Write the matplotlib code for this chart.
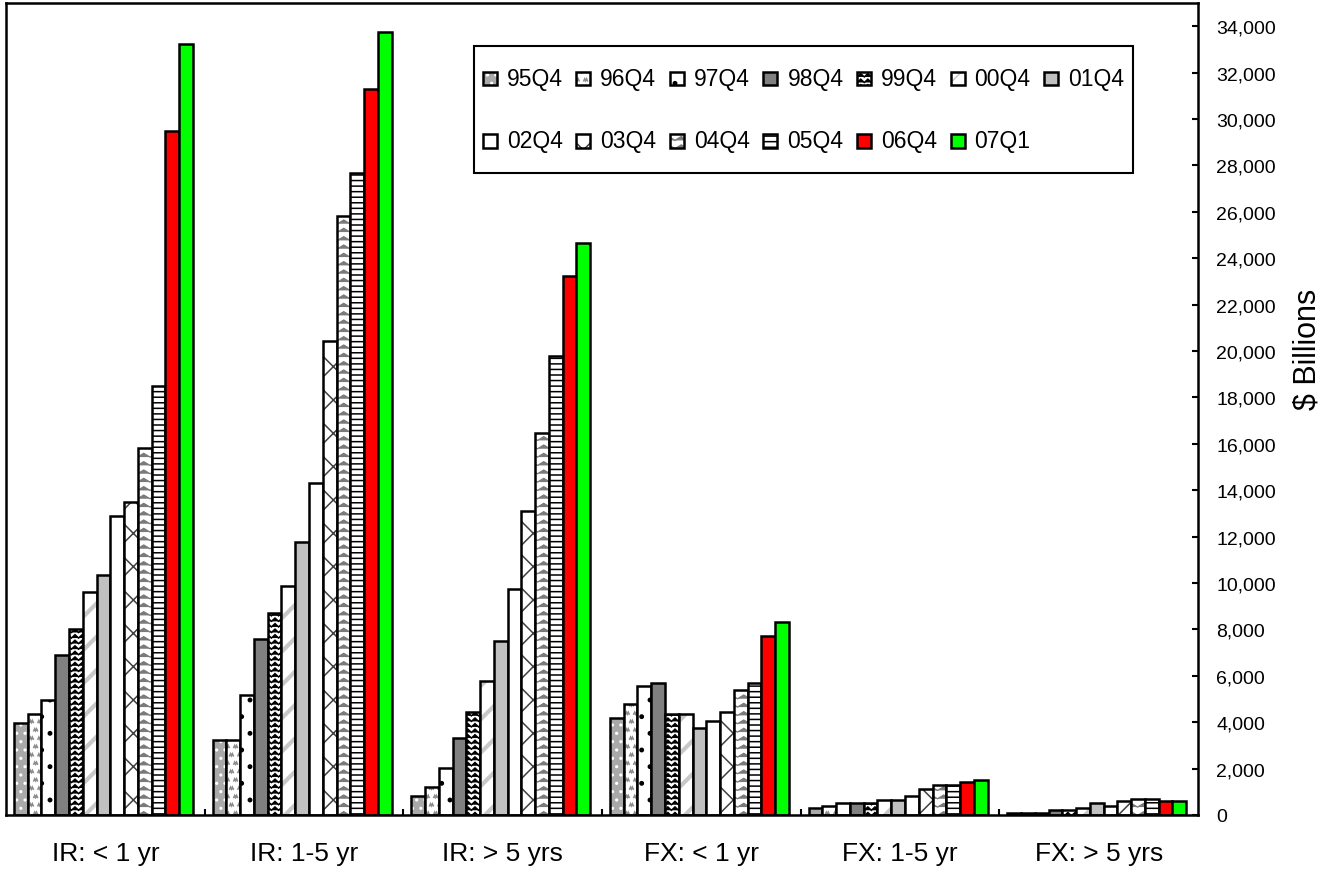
import warnings

import numpy as np
import matplotlib
matplotlib.use("Agg")
import matplotlib.pyplot as plt
from matplotlib import hatch as mhatch
from matplotlib.path import Path
from matplotlib.patches import Rectangle
from matplotlib.container import BarContainer
from matplotlib.colors import to_rgba
from matplotlib.legend_handler import HandlerPatch, update_from_first_child
from matplotlib.ticker import FixedLocator, FixedFormatter, FuncFormatter, NullFormatter

warnings.filterwarnings("ignore", message=".*hatch must consist.*")

plt.rcParams["font.family"] = ["Liberation Sans", "DejaVu Sans"]
plt.rcParams["hatch.linewidth"] = 1.1

# ---- data ($ billions) ----
CATEGORIES = ["IR: < 1 yr", "IR: 1-5 yr", "IR: > 5 yrs",
              "FX: < 1 yr", "FX: 1-5 yr", "FX: > 5 yrs"]
PERIODS = ["95Q4", "96Q4", "97Q4", "98Q4", "99Q4", "00Q4", "01Q4",
           "02Q4", "03Q4", "04Q4", "05Q4", "06Q4", "07Q1"]

ir_lt1 = [3950, 4350, 4960, 6900, 8000, 9630, 10340, 12900, 13500, 15840, 18490, 29480, 33230]
ir_1to5 = [3240, 3240, 5180, 7600, 8720, 9850, 11780, 14320, 20440, 25820, 27670, 31300, 33740]
ir_gt5 = [800, 1220, 2020, 3340, 4460, 5780, 7520, 9750, 13100, 16450, 19790, 23240, 24660]
fx_lt1 = [4160, 4780, 5580, 5670, 4360, 4360, 3740, 4050, 4460, 5380, 5680, 7720, 8330]
fx_1to5 = [290, 400, 500, 500, 500, 630, 630, 820, 1120, 1300, 1300, 1430, 1520]
fx_gt5 = [90, 90, 90, 200, 200, 300, 500, 390, 620, 700, 700, 620, 620]

# face colour, hatch, hatch colour per period
STYLES = [
    ("#a9a9a9", "..", "white"),
    ("white", "ww", "#8c8c8c"),
    ("white", ".", "black"),
    ("#808080", None, None),
    ("white", "zzz", "black"),
    ("white", "/", "#c8c8c8"),
    ("#c0c0c0", None, None),
    ("white", None, None),
    ("white", "x", "#404040"),
    ("white", "vv", "#7a7a7a"),
    ("white", "---", "black"),
    ("#ff0000", None, None),
    ("#00ff00", None, None),
]


# ---- extra hatch shapes: zigzag rows and small squiggles ----
def zigzag_hatch(char, teeth, amp):
    class ZigZag(mhatch.HatchPatternBase):
        def __init__(self, hatch, density):
            self.num_rows = hatch.count(char) * density
            self.num_vertices = self.num_rows * (2 * teeth + 1)

        def set_vertices_and_codes(self, vertices, codes):
            n = 2 * teeth + 1
            xs = np.linspace(0.0, 1.0, n)
            bump = np.where(np.arange(n) % 2, amp / self.num_rows, 0.0)
            for i in range(self.num_rows):
                y0 = (i + 0.15) / self.num_rows
                vertices[i * n:(i + 1) * n, 0] = xs
                vertices[i * n:(i + 1) * n, 1] = y0 + bump
                codes[i * n] = Path.MOVETO
                codes[i * n + 1:(i + 1) * n] = Path.LINETO
    return ZigZag


class Squiggle(mhatch.HatchPatternBase):
    def __init__(self, hatch, density):
        self.num_rows = hatch.count("w") * density
        self.num_vertices = self.num_rows ** 2 * 5

    def set_vertices_and_codes(self, vertices, codes):
        n = self.num_rows
        step = 1.0 / n
        sx = np.linspace(0.0, 0.45, 5) * step
        sy = np.array([0, 1, 0, 1, 0]) * 0.25 * step
        k = 0
        for i in range(n):
            for j in range(n):
                x0 = (j + 0.5 * (i % 2) + 0.05) * step
                y0 = (i + 0.3) * step
                vertices[k:k + 5, 0] = x0 + sx
                vertices[k:k + 5, 1] = y0 + sy
                codes[k] = Path.MOVETO
                codes[k + 1:k + 5] = Path.LINETO
                k += 5


mhatch._hatch_types.extend([zigzag_hatch("z", 14, 0.6), zigzag_hatch("v", 8, 0.45), Squiggle])


def small_box(legend, orig_handle, xdescent, ydescent, width, height, fontsize):
    s = 10.0
    return Rectangle((-xdescent + (width - s) / 2, -ydescent + (height - s) / 2), s, s)


def main():
    values = np.array([ir_lt1, ir_1to5, ir_gt5, fx_lt1, fx_1to5, fx_gt5])
    x = np.arange(len(CATEGORIES))
    width = 0.0693
    start = 0.04

    fig = plt.figure(figsize=(13.25, 8.7), dpi=100)
    ax = fig.add_axes([6 / 1325, 54 / 870, 1192 / 1325, 812 / 870])

    containers = []
    for j, period in enumerate(PERIODS):
        face, hatch, hcol = STYLES[j]
        bc = ax.bar(x + start + width * (j + 0.5), values[:, j], width,
                    color=face, edgecolor="black", linewidth=1.8,
                    hatch=hatch, label=period, zorder=2)
        if hcol is not None:
            for p in bc:
                p._hatch_color = to_rgba(hcol)
                if period == "00Q4" and hasattr(p, "set_hatch_linewidth"):
                    p.set_hatch_linewidth(3.0)
                if period == "04Q4" and hasattr(p, "set_hatch_linewidth"):
                    p.set_hatch_linewidth(0.9)
        containers.append(bc)

    ax.set_xlim(0, len(CATEGORIES))
    ax.set_ylim(0, 35000)

    # group boundaries get small inward ticks, names sit at group centres
    ax.xaxis.set_major_locator(FixedLocator(np.arange(1, len(CATEGORIES))))
    ax.xaxis.set_major_formatter(NullFormatter())
    ax.xaxis.set_minor_locator(FixedLocator(x + 0.5))
    ax.xaxis.set_minor_formatter(FixedFormatter(CATEGORIES))
    ax.tick_params(axis="x", which="major", direction="in", length=4.5, width=1.5)
    ax.tick_params(axis="x", which="minor", length=0, pad=19, labelsize=19)

    ax.yaxis.tick_right()
    ax.set_yticks(np.arange(0, 34001, 2000))
    ax.yaxis.set_major_formatter(FuncFormatter(lambda v, _: f"{v:,.0f}"))
    ax.tick_params(axis="y", direction="in", length=4.5, width=1.5, pad=13, labelsize=14)
    ax.set_ylabel("$ Billions", fontsize=22)
    ax.yaxis.set_label_position("right")
    ax.yaxis.set_label_coords(1.079, 0.575)

    for sp in ax.spines.values():
        sp.set_linewidth(1.8)

    order = [0, 7, 1, 8, 2, 9, 3, 10, 4, 11, 5, 12, 6]
    leg = ax.legend(
        [containers[i] for i in order], [PERIODS[i] for i in order],
        ncols=7, loc="upper left", bbox_to_anchor=(474 / 1325, 1 - 47 / 870),
        bbox_transform=fig.transFigure, borderaxespad=0, fontsize=16.5,
        handlelength=0.6, handleheight=2.79, handletextpad=0.44,
        columnspacing=0.6, labelspacing=0.65, borderpad=0.39,
        fancybox=False, framealpha=1, edgecolor="black",
        handler_map={BarContainer: HandlerPatch(patch_func=small_box,
                                                update_func=update_from_first_child)},
    )
    leg.get_frame().set_linewidth(1.5)

    fig.savefig("out.png", dpi=100, facecolor="white")


if __name__ == "__main__":
    main()
